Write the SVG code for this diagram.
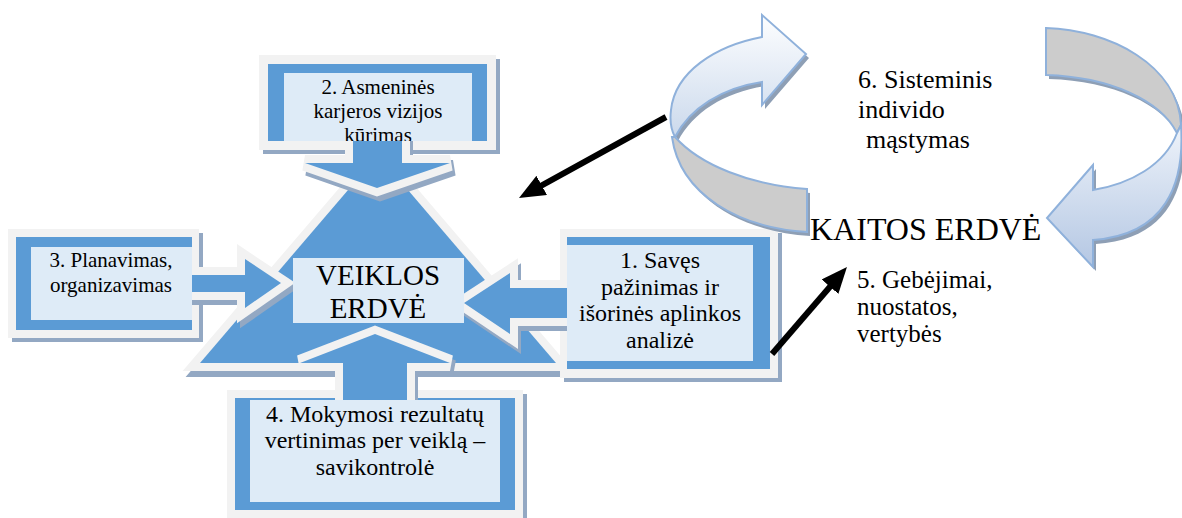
<svg xmlns="http://www.w3.org/2000/svg" width="1182" height="518" viewBox="0 0 1182 518">
<defs>
<style>
.t{font-family:'Liberation Serif','Tinos','Times New Roman','DejaVu Serif',serif;fill:#000}
.c{text-anchor:middle}
.sh{fill:#93a8c3;stroke:#93a8c3;stroke-width:16}
.ol{fill:#f2f2f2;stroke:#f2f2f2;stroke-width:16}
.bl{fill:#5b9bd5}
.in{fill:#deebf7}
.bsh{fill:#93a8c3}
.bol{fill:#f2f2f2}
.ring{stroke:#8fb1db;stroke-width:2}
.rsh{fill:#8e9fb5}
.con{stroke:#000;stroke-width:6;fill:none;marker-end:url(#ah)}
</style>
<linearGradient id="gL" x1="0" y1="0" x2="0" y2="1"><stop offset="0" stop-color="#fdfeff"/><stop offset="1" stop-color="#cbd9ec"/></linearGradient>
<linearGradient id="gR" x1="0" y1="0" x2="0" y2="1"><stop offset="0" stop-color="#eef3fa"/><stop offset="1" stop-color="#b4c7e3"/></linearGradient>
<marker id="ah" markerUnits="userSpaceOnUse" markerWidth="26" markerHeight="22" viewBox="0 0 26 22" refX="2" refY="11" orient="auto"><path d="M0,0 L26,11 L0,22 z" fill="#000"/></marker>
<clipPath id="clip2"><rect x="284" y="73" width="188" height="68"/></clipPath>
<polygon id="tri" points="378,155 556,363 200,363"/>
<polygon id="a2" points="353,110 402,110 402,163 450,163 377,188 305,163 353,163"/>
<polygon id="a3" points="160,275 245,275 245,259 281,283 245,308 245,292 160,292"/>
<polygon id="a1" points="600,288 510,288 510,273 464,303 510,334 510,318 600,318"/>
<polygon id="a4" points="343,430 343,363 300,363 375,334 450,363 407,363 407,430"/>
<path id="lLight" d="M762,37 L762,15 L806,54 L762,105 L762,82 C722,88 690,108 675,137 C670,128 670,118 671,110 C675,72 715,46 762,37 Z"/>
<path id="lGray" d="M675,137 C700,165 750,185 807,189 L807,232 C740,228 680,195 672,137 Z"/>
<path id="rGray" d="M1046,28 C1110,30 1178,65 1181,125 L1177,133 C1160,100 1110,77 1046,75 Z"/>
<path id="rLight" d="M1093,190 C1130,184 1165,165 1177,133 L1181,125 C1185,185 1165,235 1093,240 L1093,267 L1047,218 L1093,165 Z"/>
</defs>

<g id="triangle">
<use href="#tri" class="sh" transform="translate(3,6)"/>
<use href="#tri" class="ol"/>
<use href="#tri" class="bl"/>
</g>

<g id="box2-frame">
<rect x="263" y="59" width="237" height="95" class="bsh"/>
<rect x="259" y="55" width="237" height="95" class="bol"/>
<rect x="268" y="64" width="219" height="77" class="bl"/>
</g>
<g id="box3-frame">
<rect x="12" y="233" width="191" height="109" class="bsh"/>
<rect x="8" y="229" width="191" height="109" class="bol"/>
<rect x="16" y="237" width="176" height="93" class="bl"/>
</g>
<g id="box1-frame">
<rect x="564" y="233" width="218" height="149" class="bsh"/>
<rect x="560" y="229" width="218" height="149" class="bol"/>
<rect x="567" y="237" width="203" height="132" class="bl"/>
</g>
<g id="box4-frame">
<rect x="231" y="394" width="296" height="130" class="bsh"/>
<rect x="227" y="390" width="296" height="130" class="bol"/>
<rect x="235" y="398" width="280" height="112" class="bl"/>
</g>

<g id="block-arrows">
<use href="#a2" class="sh" transform="translate(3,5)"/>
<use href="#a2" class="ol"/>
<use href="#a2" class="bl"/>
<use href="#a3" class="sh" transform="translate(3,5)"/>
<use href="#a3" class="ol"/>
<use href="#a3" class="bl"/>
<use href="#a1" class="sh" transform="translate(3,5)"/>
<use href="#a1" class="ol"/>
<use href="#a1" class="bl"/>
<use href="#a4" class="sh" transform="translate(3,5)"/>
<use href="#a4" class="ol"/>
<use href="#a4" class="bl"/>
</g>

<g id="box2" font-family="Liberation Serif, serif">
<rect x="284" y="73" width="188" height="68" class="in"/>
<g clip-path="url(#clip2)">
<text class="t c" x="378" y="94" font-size="21">2. Asmeninės</text>
<text class="t c" x="378" y="118" font-size="21">karjeros vizijos</text>
<text class="t c" x="378" y="142" font-size="21">kūrimas</text>
</g>
</g>
<g id="box3">
<rect x="31" y="247" width="161" height="73" class="in"/>
<text class="t c" x="111" y="267" font-size="21">3. Planavimas,</text>
<text class="t c" x="111" y="292" font-size="21">organizavimas</text>
</g>
<g id="box1">
<rect x="567" y="245" width="186" height="116" class="in"/>
<text class="t c" x="660" y="268" font-size="24">1. Savęs</text>
<text class="t c" x="660" y="295" font-size="24">pažinimas ir</text>
<text class="t c" x="660" y="321" font-size="24">išorinės aplinkos</text>
<text class="t c" x="660" y="348" font-size="24">analizė</text>
</g>
<g id="box4">
<rect x="250" y="400" width="250" height="102" class="in"/>
<text class="t c" x="375" y="422" font-size="24">4. Mokymosi rezultatų</text>
<text class="t c" x="375" y="448" font-size="24">vertinimas per veiklą –</text>
<text class="t c" x="375" y="475" font-size="24">savikontrolė</text>
</g>
<g id="veiklos">
<rect x="293" y="258" width="171" height="65" class="in"/>
<text class="t c" x="378" y="285" font-size="29">VEIKLOS</text>
<text class="t c" x="378" y="318" font-size="29">ERDVĖ</text>
</g>

<g id="cycle-left">
<use href="#lLight" class="rsh" transform="translate(3,4)"/>
<use href="#lGray" class="rsh" transform="translate(3,4)"/>
<use href="#lLight" class="ring" fill="url(#gL)"/>
<use href="#lGray" class="ring" fill="#cccccc"/>
</g>
<g id="cycle-right">
<use href="#rGray" class="rsh" transform="translate(3,4)"/>
<use href="#rLight" class="rsh" transform="translate(3,4)"/>
<use href="#rGray" class="ring" fill="#cccccc"/>
<use href="#rLight" class="ring" fill="url(#gR)"/>
</g>

<g id="sisteminis">
<text class="t" x="858" y="88" font-size="26">6. Sisteminis</text>
<text class="t" x="858" y="118" font-size="26">individo</text>
<text class="t" x="866" y="148" font-size="26">mąstymas</text>
</g>
<g id="kaitos">
<text class="t" x="810" y="240" font-size="32">KAITOS ERDVĖ</text>
</g>
<g id="gebejimai">
<text class="t" x="857" y="288" font-size="25">5. Gebėjimai,</text>
<text class="t" x="857" y="315" font-size="25">nuostatos,</text>
<text class="t" x="857" y="342" font-size="25">vertybės</text>
</g>

<g id="connectors">
<line class="con" x1="666" y1="117" x2="540" y2="186.4"/>
<line class="con" x1="772" y1="354" x2="831.3" y2="285.2"/>
</g>
</svg>
